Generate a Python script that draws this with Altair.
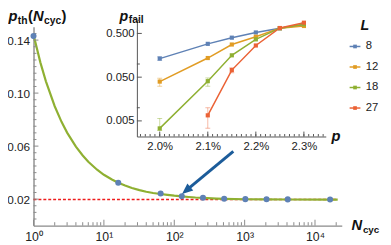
import altair as alt
import pandas as pd

FONT = "Liberation Sans"
BLUE, ORANGE, GREEN, RED = "#5e81b5", "#e19c24", "#8fb032", "#eb6235"

# ---------------- main panel data ----------------
n_cyc = [1, 16, 64, 128, 256, 512, 1024, 2048, 4096, 16384]
p_th = [0.1430, 0.0324, 0.0242, 0.0222, 0.0210, 0.0203, 0.0200, 0.0199, 0.0198, 0.0197]

fit_n = [1, 1.25, 1.5, 2, 2.5, 3, 4, 5, 6, 8, 10, 13, 16, 20, 25, 32, 40, 50, 64, 80,
         100, 128, 160, 200, 256, 400, 512, 1024, 2048, 4096, 16384, 21000]
fit_p = [0.1440, 0.1232, 0.1089, 0.0901, 0.0783, 0.0702, 0.0596, 0.0529, 0.0482, 0.0422,
         0.0384, 0.0348, 0.0324, 0.0302, 0.0284, 0.0268, 0.0256, 0.0246, 0.0239, 0.0232,
         0.0226, 0.0221, 0.0216, 0.0212, 0.0209, 0.0204, 0.0202, 0.0199, 0.0198, 0.0197,
         0.0196, 0.0196]

thr_n = [1, 20000]
thr_p = [0.0197, 0.0197]

arrow_n = [690, 165]
arrow_p = [0.0561, 0.0287]
arrow_tip_n = [129]
arrow_tip_p = [0.0239]

x_major = [1, 10, 100, 1000, 10000]
x_minor = [k * 10 ** e for e in range(5) for k in range(2, 10) if k * 10 ** e <= 24000]
y_major = [0.02, 0.06, 0.10, 0.14]
y_minor = [round(0.005 * k, 3) for k in range(1, 30) if round(0.005 * k, 3) not in y_major]

# ---------------- inset data ----------------
p_phys = [0.0200, 0.0210, 0.0215, 0.0220, 0.0225, 0.0230]
sizes = ["8", "12", "18", "27"]
colors = [BLUE, ORANGE, GREEN, RED]
fail_L8 = [0.133, 0.289, 0.400, 0.526, 0.655, 0.790]
fail_L12 = [0.0396, 0.137, 0.279, 0.420, 0.660, 0.740]
fail_L18 = [0.00337, 0.0405, 0.158, 0.366, 0.660, 0.810]
fail_L27 = [None, 0.0067, 0.0726, 0.265, 0.665, 0.880]

err_L = ["8", "12", "18", "18", "27", "27"]
err_p = [0.0200, 0.0200, 0.0200, 0.0210, 0.0210, 0.0215]
err_lo = [0.121, 0.031, 0.0030, 0.031, 0.0034, 0.063]
err_hi = [0.146, 0.047, 0.0057, 0.048, 0.0100, 0.082]

in_x_major = [0.020, 0.021, 0.022, 0.023]
in_x_minor = [round(0.0196 + 0.0001 * k, 4) for k in range(39)]
in_y_major = [0.5, 0.05, 0.005]
in_y_minor = [1.0, 0.1, 0.01]

# ---------------- layout ----------------
W, H = 314, 202.5
IN_X0, IN_X1 = 105.3, 297.7
IN_YB, IN_YT = 111.7, -6.7
AX = "#8a8a8a"
IAX = "#555555"
TXT = "#222222"

xs = alt.Scale(type="log", domain=[1, 24000], nice=False)
ys = alt.Scale(domain=[0, 0.15], nice=False, zero=False)
xs_in = alt.Scale(domain=[0.019525, 0.023455], range=[IN_X0, IN_X1], nice=False, zero=False)
ys_in = alt.Scale(type="log", domain=[0.0022, 1.0], range=[IN_YB, IN_YT], nice=False)
cs = alt.Scale(domain=sizes, range=colors)

x_axis = alt.Axis(values=x_major, title=None, grid=False, ticks=False, tickSize=0,
                  labelExpr="'10' + ['\u2070','\u00b9','\u00b2','\u00b3','\u2074'][round(log(datum.value)/LN10)]",
                  labelFont=FONT, labelFontSize=12.5, labelColor=TXT, labelPadding=5,
                  domainColor=AX, domainWidth=1.4, labelFlush=False)
y_axis = alt.Axis(values=y_major, format=".2f", title=None, grid=False, ticks=False, tickSize=0,
                  labelFont=FONT, labelFontSize=12, labelColor=TXT, labelPadding=4,
                  domainColor=AX, domainWidth=1.4)

fit_df = pd.DataFrame({"n": fit_n, "p": fit_p})
pts_df = pd.DataFrame({"n": n_cyc, "p": p_th})
thr_df = pd.DataFrame({"n": thr_n, "p": thr_p})

# first layer carries the axis definitions
thr = alt.Chart(thr_df).mark_line(color="#ee1c1c", strokeWidth=1.4, strokeDash=[3, 2]).encode(
    x=alt.X("n:Q", scale=xs, axis=x_axis), y=alt.Y("p:Q", scale=ys, axis=y_axis))
fit = alt.Chart(fit_df).mark_line(color=GREEN, strokeWidth=2.2).encode(
    x=alt.X("n:Q", scale=xs), y=alt.Y("p:Q", scale=ys))
pts = alt.Chart(pts_df).mark_circle(color=BLUE, size=38, opacity=1).encode(
    x=alt.X("n:Q", scale=xs), y=alt.Y("p:Q", scale=ys))

arrow_df = pd.DataFrame({"n": [arrow_n[0]], "p": [arrow_p[0]], "n2": [arrow_n[1]], "p2": [arrow_p[1]]})
arrow_line = alt.Chart(arrow_df).mark_rule(color="#1c5c9a", strokeWidth=3).encode(
    x=alt.X("n:Q", scale=xs), y=alt.Y("p:Q", scale=ys), x2="n2:Q", y2="p2:Q")
head_df = pd.DataFrame({"n": arrow_tip_n, "p": arrow_tip_p})
arrow_head = alt.Chart(head_df).mark_point(
    shape="M0,0L-0.85,2L0.85,2Z", size=121, angle=230, filled=True, color="#1c5c9a", opacity=1
).encode(x=alt.X("n:Q", scale=xs), y=alt.Y("p:Q", scale=ys))

def tick_layer(vals, chan, scale, length, base, color, width=1.0):
    df = pd.DataFrame({"v": vals})
    if chan == "x":
        enc = dict(x=alt.X("v:Q", scale=scale), y=alt.value(base), y2=alt.value(base - length))
    else:
        enc = dict(y=alt.Y("v:Q", scale=scale), x=alt.value(base), x2=alt.value(base + length))
    return alt.Chart(df).mark_rule(color=color, strokeWidth=width).encode(**enc)

main_ticks = [
    tick_layer(x_major, "x", xs, 6, H, AX),
    tick_layer(x_minor, "x", xs, 3.5, H, AX),
    tick_layer(y_major, "y", ys, 5, 0, AX),
    tick_layer(y_minor, "y", ys, 3, 0, AX),
]

ONE = pd.DataFrame({"t": [""]})

def txt(s, x, y, size, style="normal", weight="bold", baseline="alphabetic", color="#111111"):
    return alt.Chart(pd.DataFrame({"t": [s]})).mark_text(
        align="left", baseline=baseline, font=FONT, fontSize=size, fontStyle=style,
        fontWeight=weight, color=color).encode(x=alt.value(x), y=alt.value(y), text="t:N")

texts = [
    txt("p", -25.5, -6, 15, "italic"),
    txt("th", -16, -3, 10.5),
    txt("(", -5.7, -6, 15),
    txt("N", -0.5, -6, 15, "italic"),
    txt("cyc", 10.7, -3, 10.5),
    txt(")", 28.5, -6, 15),
    txt("N", 324, 207, 15, "italic"),
    txt("cyc", 335.5, 210, 10),
    txt("p", 87.5, -6, 14.5, "italic"),
    txt("fail", 97, -3.5, 10.5),
    txt("p", 303.5, 116, 15, "italic"),
]

# ---------------- legend (drawn by hand, Mathematica style) ----------------
LEG_X0, LEG_X1, LEG_LABEL_X = 322, 333, 338.5
LEG_ROW0, LEG_STEP = 20, 20.9
legend_layers = [txt("L", 333, 3.5, 14.5, "italic")]
for i, (s, c) in enumerate(zip(sizes, colors)):
    yy = LEG_ROW0 + i * LEG_STEP
    legend_layers.append(alt.Chart(ONE).mark_rule(color=c, strokeWidth=1.5).encode(
        x=alt.value(LEG_X0), x2=alt.value(LEG_X1), y=alt.value(yy)))
    legend_layers.append(alt.Chart(ONE).mark_point(shape="square", filled=True, size=14, color=c, opacity=1).encode(
        x=alt.value((LEG_X0 + LEG_X1) / 2), y=alt.value(yy)))
    legend_layers.append(txt(s, LEG_LABEL_X, yy, 11.5, "normal", "normal", "middle", TXT))

main = alt.layer(thr, fit, *main_ticks, pts, arrow_line, arrow_head, *texts, *legend_layers)

# ---------------- inset ----------------
rows = []
for L, vals in zip(sizes, [fail_L8, fail_L12, fail_L18, fail_L27]):
    for p, f in zip(p_phys, vals):
        if f is not None:
            rows.append({"L": L, "p": p, "f": f})
in_df = pd.DataFrame(rows)
err_df = pd.DataFrame({"L": err_L, "p": err_p, "lo": err_lo, "hi": err_hi})

in_x_axis = alt.Axis(orient="bottom", offset=-(H - IN_YB), values=in_x_major, format=".1%",
                     title=None, grid=False, ticks=False, tickSize=0, labelFont=FONT,
                     labelFontSize=11.5, labelColor=TXT, labelPadding=4, domainColor=IAX,
                     domainWidth=1, labelFlush=False)
in_y_axis = alt.Axis(orient="left", offset=-IN_X0, values=in_y_major, format=".3f",
                     title=None, grid=False, ticks=False, tickSize=0, labelFont=FONT,
                     labelFontSize=11.5, labelColor=TXT, labelPadding=3, domainColor=IAX,
                     domainWidth=1)

in_lines = alt.Chart(in_df).mark_line(strokeWidth=1.5).encode(
    x=alt.X("p:Q", scale=xs_in, axis=in_x_axis), y=alt.Y("f:Q", scale=ys_in, axis=in_y_axis),
    color=alt.Color("L:N", scale=cs, legend=None))
err_rule = alt.Chart(err_df).mark_rule(strokeWidth=1, opacity=0.45).encode(
    x=alt.X("p:Q", scale=xs_in), y=alt.Y("lo:Q", scale=ys_in), y2="hi:Q",
    color=alt.Color("L:N", scale=cs, legend=None))
err_cap_lo = alt.Chart(err_df).mark_tick(orient="horizontal", size=5, thickness=1, opacity=0.45).encode(
    x=alt.X("p:Q", scale=xs_in), y=alt.Y("lo:Q", scale=ys_in),
    color=alt.Color("L:N", scale=cs, legend=None))
err_cap_hi = alt.Chart(err_df).mark_tick(orient="horizontal", size=5, thickness=1, opacity=0.45).encode(
    x=alt.X("p:Q", scale=xs_in), y=alt.Y("hi:Q", scale=ys_in),
    color=alt.Color("L:N", scale=cs, legend=None))
in_pts = alt.Chart(in_df).mark_point(filled=True, size=18, shape="square", opacity=1).encode(
    x=alt.X("p:Q", scale=xs_in), y=alt.Y("f:Q", scale=ys_in),
    color=alt.Color("L:N", scale=cs, legend=None))

in_ticks = [
    tick_layer(in_x_major, "x", xs_in, 5, IN_YB, IAX),
    tick_layer(in_x_minor, "x", xs_in, 2.5, IN_YB, IAX),
    tick_layer(in_y_major, "y", ys_in, 5, IN_X0, IAX),
    tick_layer(in_y_minor, "y", ys_in, 3, IN_X0, IAX),
]

inset = alt.layer(in_lines, *in_ticks, err_rule, err_cap_lo, err_cap_hi, in_pts)

chart = alt.layer(main, inset).resolve_scale(x="independent", y="independent").properties(
    width=W, height=H,
    padding={"left": 26, "top": 17, "right": 42, "bottom": 16},
    autosize=alt.AutoSizeParams(type="none"),
    background="white",
).configure_view(stroke=None)

chart.save("out.html", embed_options={"renderer": "svg", "actions": False})
